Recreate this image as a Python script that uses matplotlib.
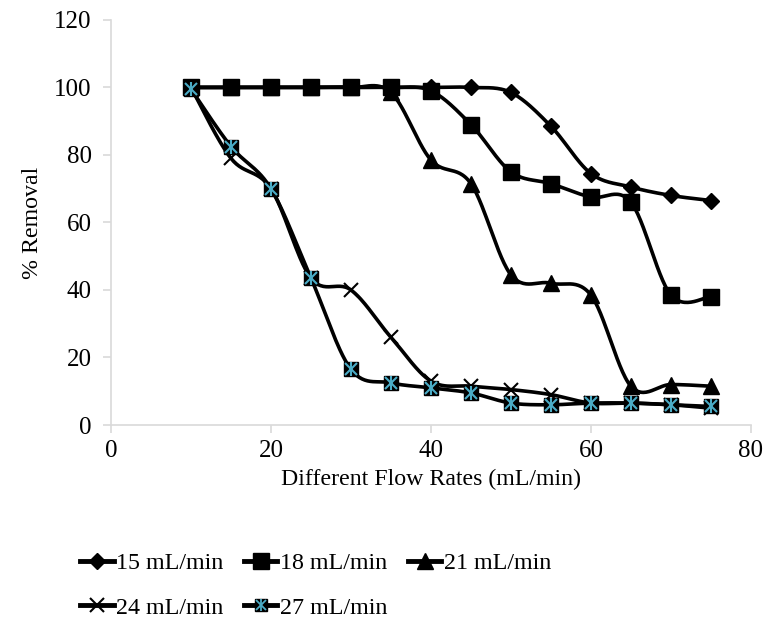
import matplotlib.pyplot as plt
from matplotlib.lines import Line2D
import numpy as np

plt.rcParams['font.family'] = ['Liberation Serif', 'DejaVu Serif']

flow = [10, 15, 20, 25, 30, 35, 40, 45, 50, 55, 60, 65, 70, 75]
r15 = [100, 100, 100, 100, 100, 100, 100, 100, 98.5, 88.5, 74.5, 70.5, 68, 66.5]
r18 = [100, 100, 100, 100, 100, 100, 99, 89, 75, 71.5, 67.5, 66, 38.5, 38]
r21 = [100, 100, 100, 100, 100, 98.5, 78.5, 71.5, 44.5, 42, 38.5, 11.5, 12, 11.5]
r24 = [100, 79, 70, 43.5, 40, 26, 13, 11.5, 10.5, 9, 6.5, 6.5, 6, 5]
r27 = [99.5, 82.5, 70, 43.5, 16.5, 12.5, 11, 9.5, 6.5, 6, 6.5, 6.5, 6, 5.5]
labels = ['15 mL/min', '18 mL/min', '21 mL/min', '24 mL/min', '27 mL/min']


def smooth(x, y, n=30):
    # excel-like smoothed line (bezier through the points)
    x = np.asarray(x, float)
    y = np.asarray(y, float)
    px = np.concatenate([[x[0]], x, [x[-1]]])
    py = np.concatenate([[y[0]], y, [y[-1]]])
    t = np.linspace(0, 1, n)[:, None]
    xs, ys = [], []
    for i in range(1, len(px) - 2):
        p0 = np.array([px[i], py[i]])
        p3 = np.array([px[i + 1], py[i + 1]])
        p1 = p0 + (np.array([px[i + 1], py[i + 1]]) - np.array([px[i - 1], py[i - 1]])) / 6
        p2 = p3 - (np.array([px[i + 2], py[i + 2]]) - np.array([px[i], py[i]])) / 6
        b = (1 - t) ** 3 * p0 + 3 * (1 - t) ** 2 * t * p1 + 3 * (1 - t) * t ** 2 * p2 + t ** 3 * p3
        xs.append(b[:, 0])
        ys.append(b[:, 1])
    return np.concatenate(xs), np.concatenate(ys)


fig = plt.figure(figsize=(7.67, 6.22), dpi=100)
ax = fig.add_axes([0.1447, 0.3167, 0.8343, 0.6513])

lw = 2.6
cyan = '#4BACC6'
series = [(r15, 'D', 8), (r18, 's', 11.5), (r21, '^', 11), (r24, 'x', 10), (r27, 's', 10.5)]
for vals, m, ms in series:
    sx, sy = smooth(flow, vals)
    ax.plot(sx, sy, color='black', lw=lw, zorder=2)
for vals, m, ms in series:
    if m == 'x':
        ax.plot(flow, vals, ls='none', marker='x', ms=ms, mew=1.5, color='black', zorder=3)
    else:
        ax.plot(flow, vals, ls='none', marker=m, ms=ms, color='black', mec='black', zorder=3)
# star marker overlay for 27 mL/min
ax.plot(flow, r27, ls='none', marker='x', ms=8, mew=1.5, color=cyan, zorder=4)
ax.plot(flow, r27, ls='none', marker='|', ms=10, mew=1.5, color=cyan, zorder=4)

ax.set_xlim(0, 80)
ax.set_ylim(0, 120)
ax.set_xticks([0, 20, 40, 60, 80])
ax.set_yticks(range(0, 121, 20))
for s in ['top', 'right']:
    ax.spines[s].set_visible(False)
for s in ['left', 'bottom']:
    ax.spines[s].set_color('#D9D9D9')
    ax.spines[s].set_linewidth(1.2)
ax.tick_params(colors='#D9D9D9', labelcolor='black', labelsize=18, length=6, width=1.2)
ax.tick_params(axis='y', pad=8)
ax.tick_params(axis='x', pad=5)
ax.set_xlabel('Different Flow Rates (mL/min)', fontsize=17.2, labelpad=5)
ax.set_ylabel('% Removal', fontsize=17.2, labelpad=8)

handles = []
for i, (vals, m, ms) in enumerate(series):
    if m == 'x':
        h = Line2D([], [], color='black', lw=3.5, marker='x', ms=ms, mew=1.5)
    elif i == 4:
        h = (Line2D([], [], color='black', lw=3.5, marker='s', ms=9),
             Line2D([], [], ls='none', marker='x', ms=7, mew=1.3, color=cyan),
             Line2D([], [], ls='none', marker='|', ms=9, mew=1.3, color=cyan))
    else:
        h = Line2D([], [], color='black', lw=3.5, marker=m, ms=ms)
    handles.append(h)

# legend fills by column, so reorder to read row by row
order = [0, 3, 1, 4, 2]
fig.legend([handles[i] for i in order], [labels[i] for i in order],
           loc='upper left', bbox_to_anchor=(0.076, 0.147),
           ncol=3, frameon=False, fontsize=17.3, handlelength=1.4, handletextpad=0.1,
           columnspacing=0.85, labelspacing=0.95)

fig.savefig('out.png', dpi=100)
